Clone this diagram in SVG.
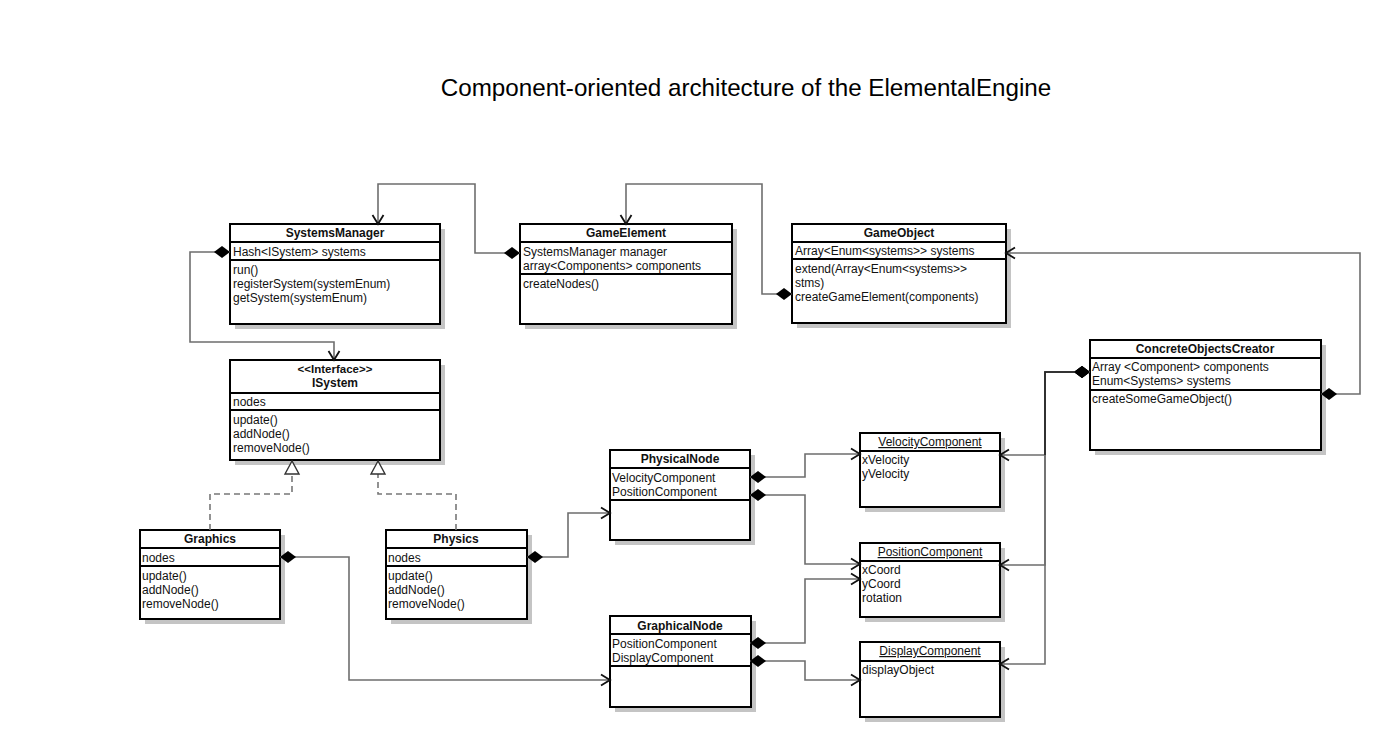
<svg xmlns="http://www.w3.org/2000/svg" width="1384" height="737" viewBox="0 0 1384 737">
<style>
text{font-family:"Liberation Sans",Arial,sans-serif;font-size:12px;fill:#111}
.title{font-size:24.2px;fill:#000}
.t{font-weight:bold;text-anchor:middle}
.st{font-weight:bold;text-anchor:middle;font-size:11.5px}
.u{text-anchor:middle;text-decoration:underline}
.sh{fill:#c4c4c4}
.bx{fill:#fff;stroke:#000;stroke-width:2}
.dv{stroke:#000;stroke-width:2}
.c{fill:none;stroke:#6e6e6e;stroke-width:1.6}
.cb{fill:none;stroke:#222;stroke-width:1.6}
.r{fill:none;stroke:#777;stroke-width:1.6;stroke-dasharray:6 4}
</style>
<defs>
<marker id="dia" markerUnits="userSpaceOnUse" viewBox="-1 -8 19 16" refX="0" refY="0" markerWidth="19" markerHeight="16" orient="auto">
<path d="M0,0 L8,-6 L16,0 L8,6 Z" fill="#000" stroke="none"/>
</marker>
<marker id="arr" markerUnits="userSpaceOnUse" viewBox="-11 -7 13 14" refX="0" refY="0" markerWidth="13" markerHeight="14" orient="auto">
<path d="M-9,-5.5 L0,0 L-9,5.5" fill="none" stroke="#111" stroke-width="1.8"/>
</marker>
<marker id="tri" markerUnits="userSpaceOnUse" viewBox="-15 -9 17 18" refX="0" refY="0" markerWidth="17" markerHeight="18" orient="auto">
<path d="M0,0 L-13,-7 L-13,7 Z" fill="#fff" stroke="#333" stroke-width="1.4"/>
</marker>
</defs>
<rect width="1384" height="737" fill="#fff"/>
<text class="title" x="746" y="96" text-anchor="middle">Component-oriented architecture of the ElementalEngine</text>

<g id="SystemsManager">
<rect class="sh" x="235" y="229" width="210" height="100"/>
<rect class="bx" x="230" y="224" width="210" height="100"/>
<line class="dv" x1="230" y1="242" x2="440" y2="242"/>
<line class="dv" x1="230" y1="260" x2="440" y2="260"/>
<text class="t" x="335" y="237">SystemsManager</text>
<text x="233" y="256">Hash&lt;ISystem&gt; systems</text>
<text x="233" y="274">run()</text>
<text x="233" y="288">registerSystem(systemEnum)</text>
<text x="233" y="302">getSystem(systemEnum)</text>
</g>

<g id="GameElement">
<rect class="sh" x="525" y="229" width="212" height="100"/>
<rect class="bx" x="520" y="224" width="212" height="100"/>
<line class="dv" x1="520" y1="242" x2="732" y2="242"/>
<line class="dv" x1="520" y1="274" x2="732" y2="274"/>
<text class="t" x="626" y="237">GameElement</text>
<text x="523" y="256">SystemsManager manager</text>
<text x="523" y="270">array&lt;Components&gt; components</text>
<text x="523" y="288">createNodes()</text>
</g>

<g id="GameObject">
<rect class="sh" x="797" y="229" width="214" height="99"/>
<rect class="bx" x="792" y="224" width="214" height="99"/>
<line class="dv" x1="792" y1="242" x2="1006" y2="242"/>
<line class="dv" x1="792" y1="259" x2="1006" y2="259"/>
<text class="t" x="899" y="237">GameObject</text>
<text x="795" y="255">Array&lt;Enum&lt;systems&gt;&gt; systems</text>
<text x="795" y="273">extend(Array&lt;Enum&lt;systems&gt;&gt;</text>
<text x="795" y="287">stms)</text>
<text x="795" y="301">createGameElement(components)</text>
</g>

<g id="ConcreteObjectsCreator">
<rect class="sh" x="1095" y="345" width="231" height="110"/>
<rect class="bx" x="1090" y="340" width="231" height="110"/>
<line class="dv" x1="1090" y1="358" x2="1321" y2="358"/>
<line class="dv" x1="1090" y1="390" x2="1321" y2="390"/>
<text class="t" x="1205" y="353">ConcreteObjectsCreator</text>
<text x="1092" y="371">Array &lt;Component&gt; components</text>
<text x="1092" y="385">Enum&lt;Systems&gt; systems</text>
<text x="1092" y="403">createSomeGameObject()</text>
</g>

<g id="ISystem">
<rect class="sh" x="235" y="365" width="210" height="100"/>
<rect class="bx" x="230" y="360" width="210" height="100"/>
<line class="dv" x1="230" y1="393" x2="440" y2="393"/>
<line class="dv" x1="230" y1="410" x2="440" y2="410"/>
<text class="st" x="335" y="373">&lt;&lt;Interface&gt;&gt;</text>
<text class="t" x="335" y="387">ISystem</text>
<text x="233" y="406">nodes</text>
<text x="233" y="424">update()</text>
<text x="233" y="438">addNode()</text>
<text x="233" y="452">removeNode()</text>
</g>

<g id="Graphics">
<rect class="sh" x="145" y="535" width="140" height="89"/>
<rect class="bx" x="140" y="530" width="140" height="89"/>
<line class="dv" x1="140" y1="548" x2="280" y2="548"/>
<line class="dv" x1="140" y1="566" x2="280" y2="566"/>
<text class="t" x="210" y="543">Graphics</text>
<text x="142" y="562">nodes</text>
<text x="142" y="580">update()</text>
<text x="142" y="594">addNode()</text>
<text x="142" y="608">removeNode()</text>
</g>

<g id="Physics">
<rect class="sh" x="391" y="535" width="141" height="89"/>
<rect class="bx" x="386" y="530" width="141" height="89"/>
<line class="dv" x1="386" y1="548" x2="527" y2="548"/>
<line class="dv" x1="386" y1="566" x2="527" y2="566"/>
<text class="t" x="456" y="543">Physics</text>
<text x="388" y="562">nodes</text>
<text x="388" y="580">update()</text>
<text x="388" y="594">addNode()</text>
<text x="388" y="608">removeNode()</text>
</g>

<g id="PhysicalNode">
<rect class="sh" x="615" y="455" width="140" height="90"/>
<rect class="bx" x="610" y="450" width="140" height="90"/>
<line class="dv" x1="610" y1="468" x2="750" y2="468"/>
<line class="dv" x1="610" y1="500" x2="750" y2="500"/>
<text class="t" x="680" y="463">PhysicalNode</text>
<text x="612" y="482">VelocityComponent</text>
<text x="612" y="496">PositionComponent</text>
</g>

<g id="GraphicalNode">
<rect class="sh" x="615" y="621" width="141" height="91"/>
<rect class="bx" x="610" y="616" width="141" height="91"/>
<line class="dv" x1="610" y1="634" x2="751" y2="634"/>
<line class="dv" x1="610" y1="666" x2="751" y2="666"/>
<text class="t" x="680" y="630">GraphicalNode</text>
<text x="612" y="648">PositionComponent</text>
<text x="612" y="662">DisplayComponent</text>
</g>

<g id="VelocityComponent">
<rect class="sh" x="865" y="438" width="140" height="74"/>
<rect class="bx" x="860" y="433" width="140" height="74"/>
<line class="dv" x1="860" y1="451" x2="1000" y2="451"/>
<text class="u" x="930" y="446">VelocityComponent</text>
<text x="862" y="464">xVelocity</text>
<text x="862" y="478">yVelocity</text>
</g>

<g id="PositionComponent">
<rect class="sh" x="865" y="548" width="140" height="74"/>
<rect class="bx" x="860" y="543" width="140" height="74"/>
<line class="dv" x1="860" y1="561" x2="1000" y2="561"/>
<text class="u" x="930" y="556">PositionComponent</text>
<text x="862" y="574">xCoord</text>
<text x="862" y="588">yCoord</text>
<text x="862" y="602">rotation</text>
</g>

<g id="DisplayComponent">
<rect class="sh" x="865" y="647" width="140" height="75"/>
<rect class="bx" x="860" y="642" width="140" height="75"/>
<line class="dv" x1="860" y1="661" x2="1000" y2="661"/>
<text class="u" x="930" y="655">DisplayComponent</text>
<text x="862" y="674">displayObject</text>
</g>

<g id="connectors">
<path class="c" d="M520 253 H475 V184 H378 V224" marker-start="url(#dia)" marker-end="url(#arr)"/>
<path class="c" d="M230 252 H190 V342 H334 V360" marker-start="url(#dia)" marker-end="url(#arr)"/>
<path class="c" d="M792 294 H762 V184 H626 V224" marker-start="url(#dia)" marker-end="url(#arr)"/>
<path class="c" d="M1321 394 H1360 V253 H1006" marker-start="url(#dia)" marker-end="url(#arr)"/>
<path class="c" d="M1090 372 H1045 V455 H1000" marker-start="url(#dia)" marker-end="url(#arr)"/>
<path class="c" d="M1090 372 H1045 V565 H1000" marker-start="url(#dia)" marker-end="url(#arr)"/>
<path class="c" d="M1090 372 H1045 V664 H1000" marker-start="url(#dia)" marker-end="url(#arr)"/>
<path class="cb" d="M1075 372 H1045 V455"/>
<path class="c" d="M527 557 H568 V513 H610" marker-start="url(#dia)" marker-end="url(#arr)"/>
<path class="c" d="M280 557 H349 V680 H610" marker-start="url(#dia)" marker-end="url(#arr)"/>
<path class="c" d="M750 477 H805 V454 H860" marker-start="url(#dia)" marker-end="url(#arr)"/>
<path class="c" d="M750 495 H805 V564 H860" marker-start="url(#dia)" marker-end="url(#arr)"/>
<path class="c" d="M750 643 H805 V579 H860" marker-start="url(#dia)" marker-end="url(#arr)"/>
<path class="c" d="M750 661 H805 V680 H860" marker-start="url(#dia)" marker-end="url(#arr)"/>
<path class="r" d="M210 530 V494 H292 V461" marker-end="url(#tri)"/>
<path class="r" d="M456 530 V494 H378 V461" marker-end="url(#tri)"/>
</g>
</svg>
